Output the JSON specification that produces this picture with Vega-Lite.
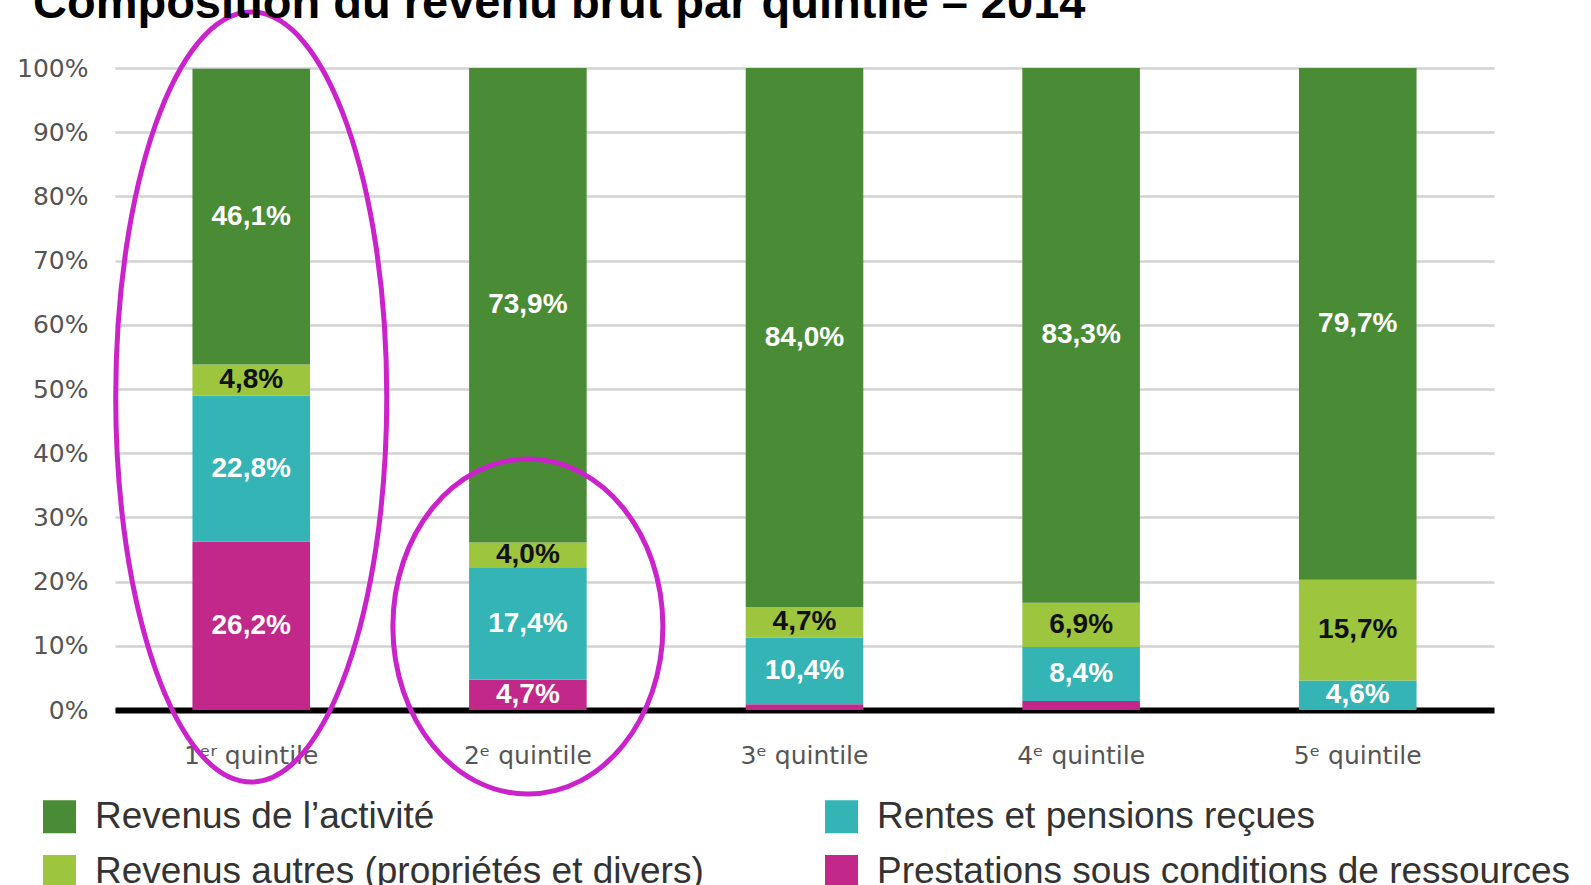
{
  "$schema": "https://vega.github.io/schema/vega-lite/v6.json",
  "width": 1379,
  "height": 642,
  "autosize": {"type": "none"},
  "padding": {"left": 115, "top": 68, "right": 97, "bottom": 175},
  "background": "white",
  "title": {
    "text": "Composition du revenu brut par quintile – 2014",
    "anchor": "start",
    "frame": "group",
    "orient": "top",
    "font": "Liberation Sans",
    "fontSize": 47,
    "fontWeight": "bold",
    "color": "#000000",
    "offset": -63,
    "baseline": "alphabetic",
    "dx": -82
  },
  "datasets": {
    "revenus": [
      {"quintile": "1ᵉʳ quintile", "categorie": "Prestations sous conditions de ressources", "valeur": 26.2, "rang": 1},
      {"quintile": "1ᵉʳ quintile", "categorie": "Rentes et pensions reçues", "valeur": 22.8, "rang": 2},
      {"quintile": "1ᵉʳ quintile", "categorie": "Revenus autres (propriétés et divers)", "valeur": 4.8, "rang": 3},
      {"quintile": "1ᵉʳ quintile", "categorie": "Revenus de l’activité", "valeur": 46.1, "rang": 4},
      {"quintile": "2ᵉ quintile", "categorie": "Prestations sous conditions de ressources", "valeur": 4.7, "rang": 1},
      {"quintile": "2ᵉ quintile", "categorie": "Rentes et pensions reçues", "valeur": 17.4, "rang": 2},
      {"quintile": "2ᵉ quintile", "categorie": "Revenus autres (propriétés et divers)", "valeur": 4.0, "rang": 3},
      {"quintile": "2ᵉ quintile", "categorie": "Revenus de l’activité", "valeur": 73.9, "rang": 4},
      {"quintile": "3ᵉ quintile", "categorie": "Prestations sous conditions de ressources", "valeur": 0.9, "rang": 1},
      {"quintile": "3ᵉ quintile", "categorie": "Rentes et pensions reçues", "valeur": 10.4, "rang": 2},
      {"quintile": "3ᵉ quintile", "categorie": "Revenus autres (propriétés et divers)", "valeur": 4.7, "rang": 3},
      {"quintile": "3ᵉ quintile", "categorie": "Revenus de l’activité", "valeur": 84.0, "rang": 4},
      {"quintile": "4ᵉ quintile", "categorie": "Prestations sous conditions de ressources", "valeur": 1.4, "rang": 1},
      {"quintile": "4ᵉ quintile", "categorie": "Rentes et pensions reçues", "valeur": 8.4, "rang": 2},
      {"quintile": "4ᵉ quintile", "categorie": "Revenus autres (propriétés et divers)", "valeur": 6.9, "rang": 3},
      {"quintile": "4ᵉ quintile", "categorie": "Revenus de l’activité", "valeur": 83.3, "rang": 4},
      {"quintile": "5ᵉ quintile", "categorie": "Prestations sous conditions de ressources", "valeur": 0.0, "rang": 1},
      {"quintile": "5ᵉ quintile", "categorie": "Rentes et pensions reçues", "valeur": 4.6, "rang": 2},
      {"quintile": "5ᵉ quintile", "categorie": "Revenus autres (propriétés et divers)", "valeur": 15.7, "rang": 3},
      {"quintile": "5ᵉ quintile", "categorie": "Revenus de l’activité", "valeur": 79.7, "rang": 4}
    ],
    "ellipses": [
      {"id": 1, "quintile": "1ᵉʳ quintile", "centre": 48.75},
      {"id": 2, "quintile": "2ᵉ quintile", "centre": 13.0}
    ]
  },
  "layer": [
    {
      "data": {"name": "revenus"},
      "mark": {"type": "bar"},
      "encoding": {
        "x": {
          "field": "quintile",
          "type": "nominal",
          "title": null,
          "sort": ["1ᵉʳ quintile", "2ᵉ quintile", "3ᵉ quintile", "4ᵉ quintile", "5ᵉ quintile"],
          "scale": {"paddingInner": 0.575, "paddingOuter": 0.28}
        },
        "y": {
          "field": "valeur",
          "type": "quantitative",
          "title": null,
          "stack": "zero",
          "scale": {"domain": [0, 100], "nice": false},
          "axis": {
            "values": [0, 10, 20, 30, 40, 50, 60, 70, 80, 90, 100],
            "labelExpr": "datum.value + '%'"
          }
        },
        "color": {
          "field": "categorie",
          "type": "nominal",
          "scale": {
            "domain": ["Revenus de l’activité", "Rentes et pensions reçues", "Revenus autres (propriétés et divers)", "Prestations sous conditions de ressources"],
            "range": ["#4a8b36", "#34b4b4", "#9dc53e", "#c1288a"]
          },
          "legend": {
            "title": null,
            "orient": "none",
            "legendX": -74,
            "legendY": 730,
            "direction": "horizontal",
            "columns": 2,
            "columnPadding": 119,
            "rowPadding": 17,
            "symbolType": "square",
            "symbolSize": 1089,
            "symbolStrokeWidth": 0,
            "symbolOpacity": 1,
            "labelFont": "Liberation Sans",
            "labelFontSize": 37,
            "labelColor": "#333333",
            "labelOffset": 17,
            "labelLimit": 900
          }
        },
        "order": {"field": "rang", "type": "quantitative", "sort": "ascending"}
      }
    },
    {
      "data": {"name": "revenus"},
      "transform": [
        {"stack": "valeur", "groupby": ["quintile"], "sort": [{"field": "rang", "order": "ascending"}], "as": ["y0", "y1"]},
        {"calculate": "(datum.y0 + datum.y1) / 2", "as": "ymid"},
        {"filter": "datum.valeur >= 3"},
        {"calculate": "replace(format(datum.valeur, '.1f'), '.', ',') + '%'", "as": "etiquette"}
      ],
      "mark": {"type": "text", "font": "Liberation Sans", "fontWeight": "bold", "fontSize": 28, "baseline": "middle", "align": "center"},
      "encoding": {
        "x": {"field": "quintile", "type": "nominal", "title": null},
        "y": {"field": "ymid", "type": "quantitative", "title": null},
        "text": {"field": "etiquette", "type": "nominal"},
        "color": {
          "condition": {"test": "datum.rang == 3", "value": "#111111"},
          "value": "#ffffff"
        }
      }
    },
    {
      "data": {"name": "ellipses"},
      "transform": [{"filter": "datum.id == 1"}],
      "mark": {
        "type": "point",
        "shape": "M0,-1C0.1944,-1 0.352,-0.5523 0.352,0C0.352,0.5523 0.1944,1 0,1C-0.1944,1 -0.352,0.5523 -0.352,0C-0.352,-0.5523 -0.1944,-1 0,-1Z",
        "size": 592900,
        "filled": false,
        "stroke": "#cc22cc",
        "strokeWidth": 5,
        "opacity": 1,
        "strokeOpacity": 1
      },
      "encoding": {
        "x": {"field": "quintile", "type": "nominal", "title": null},
        "y": {"field": "centre", "type": "quantitative", "title": null}
      }
    },
    {
      "data": {"name": "ellipses"},
      "transform": [{"filter": "datum.id == 2"}],
      "mark": {
        "type": "point",
        "shape": "M0,-1C0.4452,-1 0.806,-0.5523 0.806,0C0.806,0.5523 0.4452,1 0,1C-0.4452,1 -0.806,0.5523 -0.806,0C-0.806,-0.5523 -0.4452,-1 0,-1Z",
        "size": 112225,
        "filled": false,
        "stroke": "#cc22cc",
        "strokeWidth": 5,
        "opacity": 1,
        "strokeOpacity": 1
      },
      "encoding": {
        "x": {"field": "quintile", "type": "nominal", "title": null},
        "y": {"field": "centre", "type": "quantitative", "title": null}
      }
    }
  ],
  "config": {
    "view": {"stroke": null},
    "legend": {"padding": 0},
    "axisX": {
      "labelAngle": 0,
      "ticks": false,
      "labelPadding": 33,
      "labelFont": "DejaVu Sans",
      "labelFontSize": 25,
      "labelColor": "#555555",
      "domain": true,
      "domainColor": "#000000",
      "domainWidth": 6,
      "zindex": 1,
      "grid": false
    },
    "axisY": {
      "domain": false,
      "ticks": false,
      "labelPadding": 27,
      "labelFont": "DejaVu Sans",
      "labelFontSize": 25,
      "labelColor": "#555555",
      "grid": true,
      "gridColor": "#d2d2d2",
      "gridWidth": 2.5
    }
  }
}
